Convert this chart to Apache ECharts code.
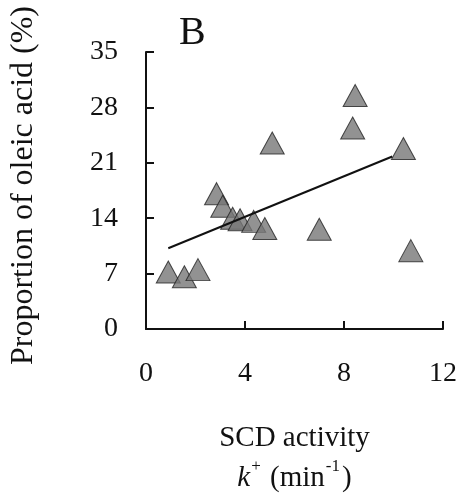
<!DOCTYPE html>
<html>
<head>
<meta charset="utf-8">
<script src="https://cdn.jsdelivr.net/npm/echarts@6/dist/echarts.min.js"></script>
<style>
  html, body { margin: 0; padding: 0; background: #fff; }
  #mycharts { width: 465px; height: 498px; }
</style>
</head>
<body>
<div id="mycharts"></div>
<script>
// SCD activity k+ (min^-1) vs proportion of oleic acid (%)
const scdActivity = [0.9, 1.55, 2.1, 2.85, 3.1, 3.5, 3.8, 4.35, 4.8, 5.1, 7.0, 8.45, 8.35, 10.4, 10.7];
const oleicAcid   = [7.2, 6.6, 7.5, 17.1, 15.5, 14.0, 13.8, 13.6, 12.7, 23.5, 12.6, 29.5, 25.4, 22.8, 9.9];
// regression line end points
const fitX = [0.9, 9.95];
const fitY = [10.2, 21.8];
const xTicks = [0, 4, 8, 12];
const yTicks = [0, 7, 14, 21, 28, 35];

const font = 'Liberation Serif';
const chart = echarts.init(document.getElementById('mycharts'));

chart.setOption({
    animation: false,
    title: {
        text: 'B',
        left: 174,
        top: 8,
        textStyle: {fontFamily: font, fontSize: 40, fontWeight: 'normal', color: '#111'}
    },
    grid: {left: 146, right: 22, top: 52, bottom: 169, containLabel: false, outerBoundsMode: 'none'},
    xAxis: {
        type: 'value',
        min: xTicks[0],
        max: xTicks[xTicks.length - 1],
        interval: 4,
        splitLine: {show: false},
        axisLine: {lineStyle: {color: '#111', width: 2}},
        axisTick: {inside: true, length: 8, lineStyle: {color: '#111', width: 2}},
        axisLabel: {fontFamily: font, fontSize: 28, color: '#111', margin: 31},
        name: 'SCD activity\n{i|k}{sup|+} {n|(min}{sup|-1}{n|)}',
        nameLocation: 'middle',
        nameGap: 89,
        nameTextStyle: {
            fontFamily: font, fontSize: 29, color: '#111', lineHeight: 40,
            rich: {
                i: {fontFamily: font, fontSize: 29, fontStyle: 'italic', color: '#111'},
                n: {fontFamily: font, fontSize: 29, color: '#111'},
                sup: {fontFamily: font, fontSize: 17, color: '#111', verticalAlign: 'top', padding: [0, 2, 12, 1]}
            }
        }
    },
    yAxis: {
        type: 'value',
        min: yTicks[0],
        max: yTicks[yTicks.length - 1],
        interval: 7,
        splitLine: {show: false},
        axisLine: {lineStyle: {color: '#111', width: 2}},
        axisTick: {inside: true, length: 8, lineStyle: {color: '#111', width: 2}},
        axisLabel: {fontFamily: font, fontSize: 28, color: '#111', margin: 28},
        name: 'Proportion of oleic acid (%)',
        nameLocation: 'middle',
        nameGap: 106,
        nameTextStyle: {fontFamily: font, fontSize: 32, color: '#111', padding: [0, 0, 0, 10]}
    },
    series: [{
        type: 'line',
        data: fitX.map((x, i) => [x, fitY[i]]),
        symbol: 'none',
        lineStyle: {color: '#111', width: 2},
        z: 3
    }, {
        type: 'scatter',
        data: scdActivity.map((x, i) => [x, oleicAcid[i]]),
        symbol: 'triangle',
        symbolSize: [24, 22],
        itemStyle: {color: '#777', borderColor: '#222', borderWidth: 1},
        z: 2
    }]
});
</script>
</body>
</html>
